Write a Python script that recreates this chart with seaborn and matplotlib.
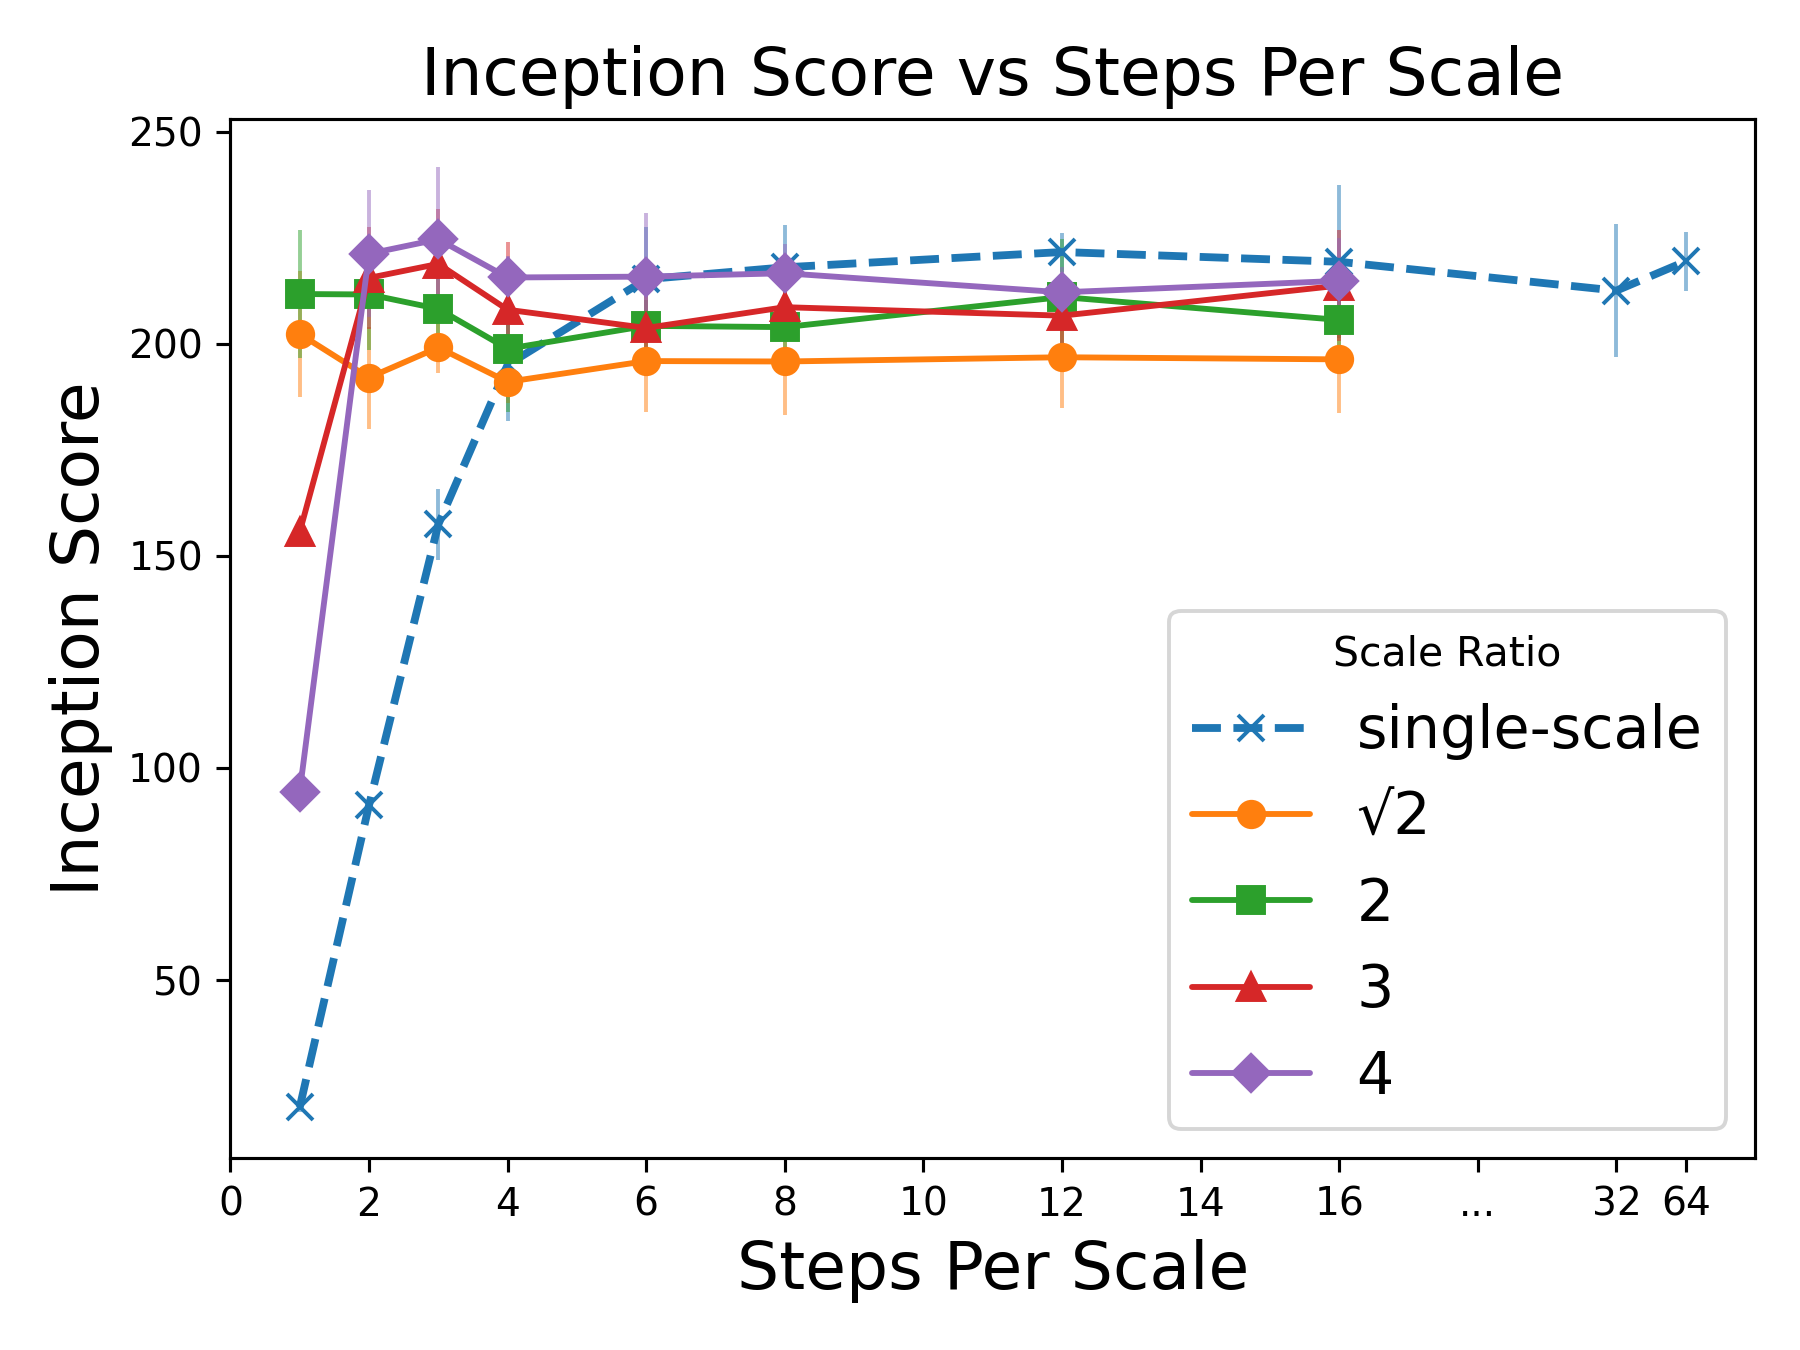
import numpy as np
import pandas as pd
import matplotlib
matplotlib.use("Agg")
import matplotlib.pyplot as plt
import seaborn as sns

# steps per scale used in the runs
steps_multi = [1, 2, 3, 4, 6, 8, 12, 16]
steps_single = [1, 2, 3, 4, 6, 8, 12, 16, 32, 64]

# inception score (mean) and error per scale ratio
single_mean = [20.0, 91.2, 157.4, 195.0, 215.2, 218.0, 221.6, 219.3, 212.5, 219.4]
single_err = [1.0, 2.0, 8.4, 13.3, 12.3, 10.0, 4.6, 18.0, 15.7, 7.0]

sqrt2_mean = [202.3, 192.0, 199.1, 191.0, 195.9, 195.8, 196.8, 196.3]
sqrt2_err = [14.8, 12.0, 6.0, 5.0, 12.0, 12.5, 12.0, 12.7]

r2_mean = [211.7, 211.6, 208.2, 198.8, 204.2, 203.9, 211.0, 205.6]
r2_err = [15.0, 13.0, 8.0, 15.0, 6.0, 5.0, 13.6, 6.0]

r3_mean = [155.6, 215.5, 218.8, 208.0, 203.7, 208.6, 206.6, 213.7]
r3_err = [2.0, 12.0, 13.0, 16.0, 8.0, 6.0, 7.0, 13.0]

r4_mean = [94.4, 221.2, 224.6, 215.6, 215.8, 216.6, 212.1, 214.8]
r4_err = [2.0, 15.0, 17.0, 5.0, 15.0, 7.0, 6.0, 10.0]

# x axis is broken after 16: 32 and 64 sit at positions 20 and 21
tick_pos = [0, 2, 4, 6, 8, 10, 12, 14, 16, 18, 20, 21]
tick_labels = ["0", "2", "4", "6", "8", "10", "12", "14", "16", "...", "32", "64"]
break_pos = {32: 20, 64: 21}


def to_pos(steps):
    return [break_pos.get(s, s) for s in steps]


series = [
    ("single-scale", steps_single, single_mean, single_err, "x", "--", 2.0),
    ("√2", steps_multi, sqrt2_mean, sqrt2_err, "o", "-", 1.5),
    ("2", steps_multi, r2_mean, r2_err, "s", "-", 1.5),
    ("3", steps_multi, r3_mean, r3_err, "^", "-", 1.5),
    ("4", steps_multi, r4_mean, r4_err, "D", "-", 1.5),
]

sns.set_style("ticks", {"axes.edgecolor": "black", "text.color": "black",
                        "axes.labelcolor": "black", "xtick.color": "black",
                        "ytick.color": "black"})
plt.rcParams["font.family"] = ["DejaVu Sans"]
colors = sns.color_palette("tab10", 5)

fig, ax = plt.subplots(figsize=(6.4, 4.8), dpi=281.25)

for (name, steps, mean, err, marker, ls, lw), c in zip(series, colors):
    df = pd.DataFrame({"pos": to_pos(steps), "score": mean, "err": err})
    # error bars first, faded, then the line with markers on top
    ax.errorbar(df["pos"], df["score"], yerr=df["err"], fmt="none",
                ecolor=c, alpha=0.5, elinewidth=1.0, zorder=1)
    sns.lineplot(data=df, x="pos", y="score", ax=ax, color=c, marker=marker,
                 linestyle=ls, linewidth=lw, markersize=6.5, mec=c, mew=1.0,
                 label=name, zorder=2)

ax.set_xlim(0, 22)
ax.set_ylim(8, 253)
ax.set_xticks(tick_pos)
ax.set_xticklabels(tick_labels)
ax.set_yticks([50, 100, 150, 200, 250])
ax.tick_params(labelsize=10, colors="black")
for sp in ax.spines.values():
    sp.set_color("black")

ax.set_title("Inception Score vs Steps Per Scale", fontsize=17)
ax.set_xlabel("Steps Per Scale", fontsize=17)
ax.set_ylabel("Inception Score", fontsize=17)

leg = ax.legend(title="Scale Ratio", fontsize=15, title_fontsize=10.5,
                loc="lower right")

fig.subplots_adjust(left=0.128, right=0.975, top=0.912, bottom=0.142)
fig.savefig("out.png", dpi=281.25)
